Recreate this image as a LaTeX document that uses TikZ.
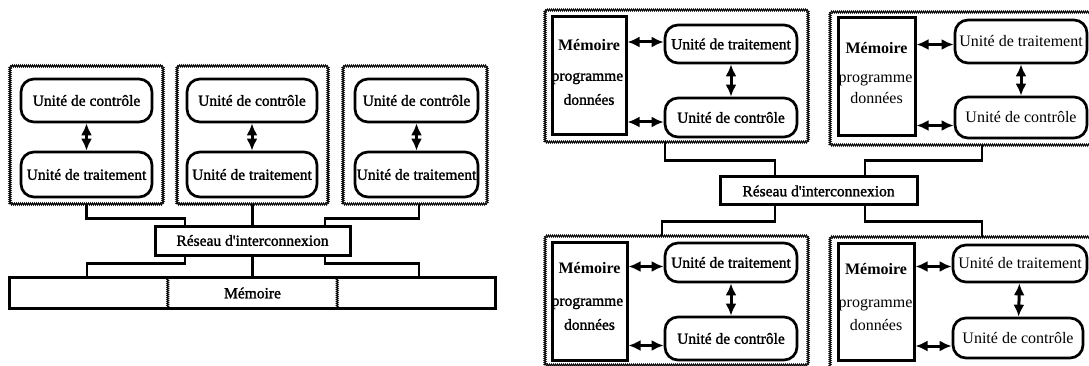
\documentclass[tikz,border=0pt]{standalone}
\usepackage{fontspec}
\setmainfont{Liberation Serif}
\newfontfamily\heavyserif[FakeBold=1.6]{Liberation Serif}
\usetikzlibrary{arrows.meta,decorations.pathmorphing}

\tikzset{
  frame/.style={draw, line width=0.9pt, decorate,
    decoration={zigzag, segment length=2pt, amplitude=1pt}},
  heavy/.style={font=\heavyserif\fontsize{15.5}{18}\selectfont},
  light/.style={font=\fontsize{16}{19}\selectfont},
  unit/.style={draw, line width=2.7pt, rounded corners=13pt, inner sep=0pt},
  membox/.style={draw, line width=3pt, inner sep=0pt},
  net/.style={draw, line width=3pt, inner sep=0pt, heavy},
  wire/.style={line width=2.8pt},
  link/.style={line width=3pt,
    {Latex[length=12pt,width=11pt]}-{Latex[length=12pt,width=11pt]}},
  memtitle/.style={inner sep=0pt, font=\bfseries\fontsize{16}{19}\selectfont},
}

\begin{document}
\begin{tikzpicture}[x=1pt, y=-1pt]
\path[use as bounding box] (0,0) rectangle (1089,366);
\clip (0,0) rectangle (1089,366);

% ---------- shared-memory machine ----------
\node[frame, minimum width=153pt, minimum height=138pt] (A1) at (86.5,135) {};
\node[frame, minimum width=151pt, minimum height=138pt] (A2) at (252.5,135) {};
\node[frame, minimum width=144pt, minimum height=138pt] (A3) at (415,135) {};

\node[unit, heavy, minimum width=131pt, minimum height=43pt] (ca1) at (86.5,100.5) {Unité de contrôle};
\node[unit, heavy, minimum width=131pt, minimum height=45pt] (ta1) at (86.5,174.5) {Unité de traitement};
\node[unit, heavy, minimum width=130pt, minimum height=43pt] (ca2) at (252,100.5) {Unité de contrôle};
\node[unit, heavy, minimum width=130pt, minimum height=45pt] (ta2) at (252,174.5) {Unité de traitement};
\node[unit, heavy, minimum width=123pt, minimum height=43pt] (ca3) at (416.5,100.5) {Unité de contrôle};
\node[unit, heavy, minimum width=123pt, minimum height=45pt] (ta3) at (416.5,174.5) {Unité de traitement};

\draw[link] (ca1) -- (ta1);
\draw[link] (ca2) -- (ta2);
\draw[link] (ca3) -- (ta3);

\node[net, minimum width=195pt, minimum height=29pt] (R1) at (252.5,240.5) {Réseau d'interconnexion};

\node[inner sep=0pt, minimum width=158pt, minimum height=30pt] (memL) at (89,293) {};
\node[inner sep=0pt, minimum width=169pt, minimum height=30pt, heavy] (memM) at (252.5,293) {Mémoire};
\node[inner sep=0pt, minimum width=158pt, minimum height=30pt] (memR) at (416,293) {};
\draw[line width=2.7pt] (memL.north west) rectangle (memR.south east);
\draw[frame] (memM.north west) -- (memM.south west);
\draw[frame] (memM.north east) -- (memM.south east);

\draw[wire] (A1.south) -- ++(0,14) -| ([xshift=-67.5pt]R1.north);
\draw[wire] (A2.south) -- (R1.north);
\draw[wire] ([xshift=4pt]A3.south) -- ++(0,14) -| ([xshift=72.5pt]R1.north);
\draw[wire] ([xshift=-67.5pt]R1.south) -- ++(0,7) -| ([xshift=-2pt]memL.north);
\draw[wire] (R1.south) -- (memM.north);
\draw[wire] ([xshift=72.5pt]R1.south) -- ++(0,7) -| ([xshift=3pt]memR.north);

% ---------- distributed-memory machine ----------
\node[frame, minimum width=263pt, minimum height=132pt] (B1) at (676.5,76) {};
\node[frame, minimum width=265pt, minimum height=133pt] (B2) at (962.5,78.5) {};
\node[frame, minimum width=263pt, minimum height=129pt] (B3) at (676.5,300.5) {};
\node[frame, minimum width=265pt, minimum height=133pt] (B4) at (962.5,303.5) {};

\node[membox, minimum width=74pt, minimum height=118pt] (M1) at (589,76) {};
\node[membox, minimum width=77pt, minimum height=118pt] (M2) at (876.5,77) {};
\node[membox, minimum width=75pt, minimum height=118pt] (M3) at (589.5,301) {};
\node[membox, minimum width=76pt, minimum height=117pt] (M4) at (876,301.5) {};

% memory labels
\node[memtitle] (m1a) at ([yshift=-30pt]M1.north) {Mémoire};
\node[memtitle] (m2a) at ([yshift=-32pt]M2.north) {Mémoire};
\node[memtitle] (m3a) at ([yshift=-28pt]M3.north) {Mémoire};
\node[memtitle] (m4a) at ([yshift=-28pt]M4.north) {Mémoire};
\begin{scope}
  \clip (M1.north west) rectangle (M1.south east);
  \node[heavy, anchor=west, inner sep=0pt] (m1b) at ([xshift=1pt,yshift=-63pt]M1.north west) {programme};
\end{scope}
\begin{scope}
  \clip (M2.north west) rectangle (M2.south east);
  \node[light, anchor=west, inner sep=0pt] (m2b) at ([xshift=2pt,yshift=-64pt]M2.north west) {programme};
\end{scope}
\begin{scope}
  \clip (M3.north west) rectangle (M3.south east);
  \node[heavy, anchor=west, inner sep=0pt] (m3b) at ([xshift=1pt,yshift=-63pt]M3.north west) {programme};
\end{scope}
\begin{scope}
  \clip (M4.north west) rectangle (M4.south east);
  \node[light, anchor=west, inner sep=0pt] (m4b) at ([xshift=2pt,yshift=-64pt]M4.north west) {programme};
\end{scope}
\node[heavy, inner sep=0pt] (m1c) at ([yshift=-84pt]M1.north) {données};
\node[light, inner sep=0pt] (m2c) at ([yshift=-82pt]M2.north) {données};
\node[heavy, inner sep=0pt] (m3c) at ([yshift=-84pt]M3.north) {données};
\node[light, inner sep=0pt] (m4c) at ([yshift=-84pt]M4.north) {données};

% processing and control units
\node[unit, heavy, minimum width=132pt, minimum height=38pt] (T1) at (731,44) {Unité de traitement};
\node[unit, heavy, minimum width=132pt, minimum height=39pt] (C1) at (731,117.5) {Unité de contrôle};
\node[unit, light, minimum width=132pt, minimum height=43pt] (T2) at (1021,41.5) {Unité de traitement};
\node[unit, light, minimum width=132pt, minimum height=41pt] (C2) at (1021,117.5) {Unité de contrôle};
\node[unit, heavy, minimum width=132pt, minimum height=39pt] (T3) at (731,262.5) {Unité de traitement};
\node[unit, heavy, minimum width=132pt, minimum height=43pt] (C3) at (731,338.5) {Unité de contrôle};
\node[unit, light, minimum width=134pt, minimum height=37pt] (T4) at (1020,263.5) {Unité de traitement};
\node[unit, light, minimum width=130pt, minimum height=40pt] (C4) at (1018,338) {Unité de contrôle};

% memory <-> unit links
\path ([yshift=2pt]T1.west) coordinate (t1in) ([yshift=-4.5pt]C1.west) coordinate (c1in);
\path ([yshift=-3pt]T2.west) coordinate (t2in) ([yshift=-8pt]C2.west) coordinate (c2in);
\path ([yshift=-4pt]T3.west) coordinate (t3in) ([yshift=-7pt]C3.west) coordinate (c3in);
\path ([yshift=-3pt]T4.west) coordinate (t4in) ([yshift=-8pt]C4.west) coordinate (c4in);
\draw[link] (M1.east |- t1in) -- (t1in);
\draw[link] (M1.east |- c1in) -- (c1in);
\draw[link] (M2.east |- t2in) -- (t2in);
\draw[link] (M2.east |- c2in) -- (c2in);
\draw[link] (M3.east |- t3in) -- (t3in);
\draw[link] (M3.east |- c3in) -- (c3in);
\draw[link] (M4.east |- t4in) -- (t4in);
\draw[link] (M4.east |- c4in) -- (c4in);

\draw[link] (T1) -- (C1);
\draw[link] (T2) -- (C2);
\draw[link] (T3) -- (C3);
\draw[link] (T4) -- (C4);

% interconnection network
\node[net, minimum width=197pt, minimum height=28pt] (R2) at (818.5,191) {Réseau d'interconnexion};

\draw[wire] ([xshift=-11.5pt]B1.south) -- ++(0,18) -| ([xshift=-43.5pt]R2.north);
\draw[wire] ([xshift=19.5pt]B2.south) -- ++(0,15) -| ([xshift=46.5pt]R2.north);
\draw[wire] ([xshift=-43.5pt]R2.south) -- ++(0,15) -| ([xshift=-14.5pt]B3.north);
\draw[wire] ([xshift=46.5pt]R2.south) -- ++(0,15) -| ([xshift=19.5pt]B4.north);
\end{tikzpicture}
\end{document}
